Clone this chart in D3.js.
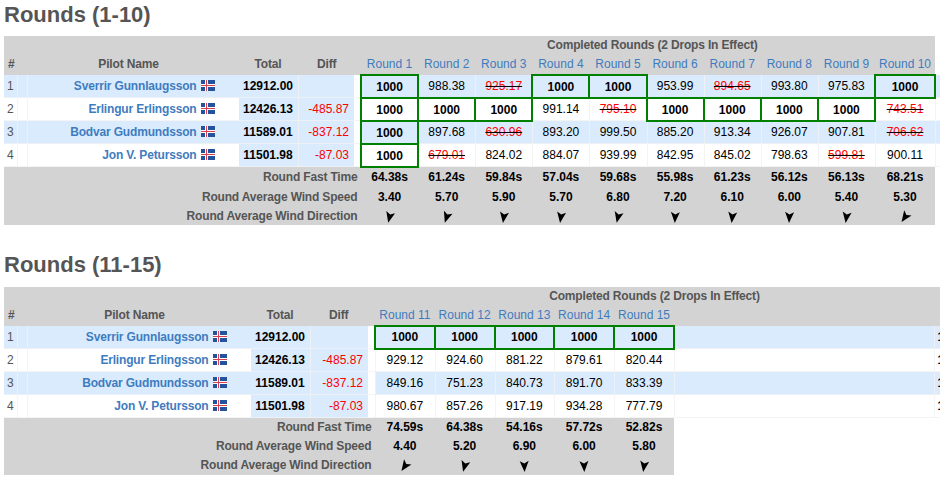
<!DOCTYPE html>
<html lang="en">
<head>
<title>Rounds</title>
<meta charset="UTF-8">
<script src="https://d3js.org/d3.v7.min.js"></script>
<style>
  html, body { margin: 0; padding: 0; background: #fff; overflow: hidden; }
  svg { display: block; }
  text { font-family: "Liberation Sans", Arial, sans-serif; font-size: 12px; }
  text.lab { letter-spacing: -0.17px; }
  rect { shape-rendering: crispEdges; }
</style>
</head>
<body>
<svg id="viz" width="940" height="482"></svg>
<script>
// values
const pilots = ["Sverrir Gunnlaugsson", "Erlingur Erlingsson", "Bodvar Gudmundsson", "Jon V. Petursson"]
const totals = ["12912.00", "12426.13", "11589.01", "11501.98"]
const diffs = ["", "-485.87", "-837.12", "-87.03"]

const roundsA = ["Round 1", "Round 2", "Round 3", "Round 4", "Round 5", "Round 6", "Round 7", "Round 8", "Round 9", "Round 10"]
const scoresA = [
  [1000, 988.38, 925.17, 1000, 1000, 953.99, 894.65, 993.80, 975.83, 1000],
  [1000, 1000, 1000, 991.14, 795.10, 1000, 1000, 1000, 1000, 743.51],
  [1000, 897.68, 630.96, 893.20, 999.50, 885.20, 913.34, 926.07, 907.81, 706.62],
  [1000, 679.01, 824.02, 884.07, 939.99, 842.95, 845.02, 798.63, 599.81, 900.11]
]
const dropsA = [[2, 6], [4, 9], [2, 9], [1, 8]]
const fastA = ["64.38s", "61.24s", "59.84s", "57.04s", "59.68s", "55.98s", "61.23s", "56.12s", "56.13s", "68.21s"]
const speedA = ["3.40", "5.70", "5.90", "5.70", "6.80", "7.20", "6.10", "6.00", "5.40", "5.30"]
const windA = [193, 198, 188, 188, 193, 183, 186, 183, 188, 215]

const roundsB = ["Round 11", "Round 12", "Round 13", "Round 14", "Round 15"]
const scoresB = [
  [1000, 1000, 1000, 1000, 1000],
  [929.12, 924.60, 881.22, 879.61, 820.44],
  [849.16, 751.23, 840.73, 891.70, 833.39],
  [980.67, 857.26, 917.19, 934.28, 777.79]
]
const dropsB = [[], [], [], []]
const fastB = ["74.59s", "64.38s", "54.16s", "57.72s", "52.82s"]
const speedB = ["4.40", "5.20", "6.90", "6.00", "5.80"]
const windB = [215, 195, 178, 178, 188]

const footLabels = ["Round Fast Time", "Round Average Wind Speed", "Round Average Wind Direction"]

const gray = "#d3d3d3", blue = "#d9ebfd", label = "#555", link = "#3f7cbf", line = "#f1f1f1", green = "#008000"

const svg = d3.select("#viz")

function drawTable(t) {
  const g = svg.append("g")
  const n = t.rounds.length
  const xEdge = i => i < n ? d3.scaleLinear().domain([0, n - 1]).range([t.x0, t.xLast])(i) : t.xEnd
  const xMid = i => (xEdge(i) + xEdge(i + 1)) / 2
  const yRow = d3.scaleBand().domain(d3.range(pilots.length)).range([t.top + 39, t.top + 131])
  const bottom = t.top + 131

  g.append("text").attr("x", 4).attr("y", t.titleY)
    .style("font-size", "22px").style("font-weight", "bold").attr("fill", label).text(t.title)

  // header and footer bands
  g.append("rect").attr("x", 4).attr("y", t.top).attr("width", t.headRight - 4).attr("height", 39).attr("fill", gray)
  g.append("rect").attr("x", 4).attr("y", bottom).attr("width", t.xEnd - 4).attr("height", t.footH).attr("fill", gray)

  g.append("text").attr("x", 8).attr("y", t.top + 32).attr("font-weight", "bold").attr("fill", label).text("#")
  g.append("text").attr("class", "lab").attr("x", t.pilotMid).attr("y", t.top + 32).attr("text-anchor", "middle").attr("font-weight", "bold").attr("fill", label).text("Pilot Name")
  g.append("text").attr("class", "lab").attr("x", t.totalMid).attr("y", t.top + 32).attr("text-anchor", "middle").attr("font-weight", "bold").attr("fill", label).text("Total")
  g.append("text").attr("class", "lab").attr("x", t.diffMid).attr("y", t.top + 32).attr("text-anchor", "middle").attr("font-weight", "bold").attr("fill", label).text("Diff")
  g.append("text").attr("class", "lab").attr("x", t.doneMid).attr("y", t.top + 13).attr("text-anchor", "middle").attr("font-weight", "bold").attr("fill", label).text("Completed Rounds (2 Drops In Effect)")

  g.selectAll(".round").data(t.rounds).enter().append("text")
    .attr("x", (d, i) => xMid(i)).attr("y", t.top + 32).attr("text-anchor", "middle").attr("fill", link).text(d => d)

  // row backgrounds, with the white gap before the round columns
  pilots.forEach((p, r) => {
    const y = yRow(r), h = yRow.bandwidth(), bg = r % 2 === 0 ? blue : "#fff"
    g.append("rect").attr("x", 4).attr("y", y).attr("width", t.totalL - 4).attr("height", h).attr("fill", bg)
    g.append("rect").attr("x", t.totalL).attr("y", y).attr("width", t.diffR - t.totalL).attr("height", h).attr("fill", blue)
    g.append("rect").attr("x", t.x0).attr("y", y).attr("width", 940 - t.x0).attr("height", h).attr("fill", bg)

    g.append("text").attr("x", 7).attr("y", y + 15).attr("fill", label).text(r + 1)
    g.append("text").attr("class", "lab").attr("x", t.nameR).attr("y", y + 15).attr("text-anchor", "end").attr("font-weight", "bold").attr("fill", link).text(p)
    g.append("text").attr("x", t.totalMid).attr("y", y + 15).attr("text-anchor", "middle").attr("font-weight", "bold").attr("fill", "#000").text(totals[r])
    g.append("text").attr("x", t.diffR - 5).attr("y", y + 15).attr("text-anchor", "end").attr("fill", "#f00").text(diffs[r])

    // flag
    const f = g.append("g").attr("transform", `translate(${t.nameR + 4.5},${y + 5})`)
    f.append("rect").attr("width", 14).attr("height", 11).attr("fill", "#24529c")
    f.append("rect").attr("x", 4).attr("width", 3).attr("height", 11).attr("fill", "#fff")
    f.append("rect").attr("y", 4).attr("width", 14).attr("height", 3).attr("fill", "#fff")
    f.append("rect").attr("x", 5).attr("width", 1).attr("height", 11).attr("fill", "#d9404f")
    f.append("rect").attr("y", 5).attr("width", 14).attr("height", 1).attr("fill", "#d9404f")

    // clipped start of the next, off-screen column
    if (t.clipped) g.append("text").attr("x", 937.5).attr("y", y + 15).attr("font-weight", "bold").attr("fill", "#000").text("1")
  })

  // faint cell separators
  const seps = [17, 26.5].concat(t.seps, d3.range(n + 1).map(xEdge), t.clipped ? [934] : [])
  g.selectAll(".sep").data(seps).enter().append("line")
    .attr("x1", d => Math.round(d) + 0.5).attr("x2", d => Math.round(d) + 0.5)
    .attr("y1", yRow(0)).attr("y2", bottom).attr("stroke", line).attr("stroke-opacity", 0.8)
  g.selectAll(".hsep").data(pilots).enter().append("line")
    .attr("x1", 4).attr("x2", 940).attr("y1", (d, r) => yRow(r) + 22.5).attr("y2", (d, r) => yRow(r) + 22.5)
    .attr("stroke", line).attr("stroke-opacity", 0.8)

  // scores, dropped ones struck through
  t.scores.forEach((row, r) => {
    row.forEach((v, c) => {
      const cy = yRow(r) + 15
      const dropped = t.drops[r].includes(c)
      if (v === 1000) {
        g.append("text").attr("x", xMid(c)).attr("y", cy + t.boxShift).attr("text-anchor", "middle").attr("font-weight", "bold").attr("fill", "#000").text("1000")
        return
      }
      const s = g.append("text").attr("x", xMid(c)).attr("y", cy).attr("text-anchor", "middle")
        .attr("fill", dropped ? "#f00" : "#000").text(v.toFixed(2))
      if (dropped) {
        const w = s.node().getComputedTextLength() / 2
        g.append("line").attr("x1", xMid(c) - w).attr("x2", xMid(c) + w).attr("y1", cy - 3.5).attr("y2", cy - 3.5)
          .attr("stroke", "#000").attr("stroke-width", 1)
      }
    })
  })

  // green boxes go on top so neighbours share a border
  t.scores.forEach((row, r) => {
    row.forEach((v, c) => {
      if (v !== 1000) return
      g.append("rect").attr("x", xEdge(c)).attr("y", yRow(r)).attr("width", xEdge(c + 1) - xEdge(c)).attr("height", yRow.bandwidth())
        .attr("fill", "none").attr("stroke", green).attr("stroke-width", 2)
    })
  })

  // footer
  footLabels.forEach((d, i) => {
    g.append("text").attr("class", "lab").attr("x", t.x0 - 3.5).attr("y", t.footY[i]).attr("text-anchor", "end").attr("font-weight", "bold").attr("fill", label).text(d)
  })
  g.selectAll(".fast").data(t.fast).enter().append("text")
    .attr("x", (d, i) => xMid(i)).attr("y", t.footY[0]).attr("text-anchor", "middle").attr("font-weight", "bold").attr("fill", "#000").text(d => d)
  g.selectAll(".speed").data(t.speed).enter().append("text")
    .attr("x", (d, i) => xMid(i)).attr("y", t.footY[1]).attr("text-anchor", "middle").attr("font-weight", "bold").attr("fill", "#000").text(d => d)
  g.selectAll(".wind").data(t.wind).enter().append("path")
    .attr("d", "M0,-6L4.5,5L0,2.5L-4.5,5Z").attr("fill", "#000")
    .attr("transform", (d, i) => `translate(${xMid(i)},${t.footY[2] - 3}) rotate(${d})`)
}

drawTable({
  title: "Rounds (1-10)", titleY: 22, top: 36, headRight: 935, footH: 58, footY: [181, 201, 220],
  rounds: roundsA, scores: scoresA, drops: dropsA, fast: fastA, speed: speedA, wind: windA,
  x0: 361, xLast: 875, xEnd: 935, totalL: 239, diffR: 354, nameR: 196.5,
  pilotMid: 128.5, totalMid: 268, diffMid: 326.7, doneMid: 652.3, seps: [297.5], boxShift: 1, clipped: false
})
drawTable({
  title: "Rounds (11-15)", titleY: 272, top: 287, headRight: 940, footH: 57, footY: [431, 450, 469],
  rounds: roundsB, scores: scoresB, drops: dropsB, fast: fastB, speed: speedB, wind: windB,
  x0: 375, xLast: 614, xEnd: 674, totalL: 251, diffR: 368, nameR: 208.5,
  pilotMid: 134.5, totalMid: 280, diffMid: 338.7, doneMid: 654.5, seps: [309.5], boxShift: 0, clipped: true
})
</script>
</body>
</html>
